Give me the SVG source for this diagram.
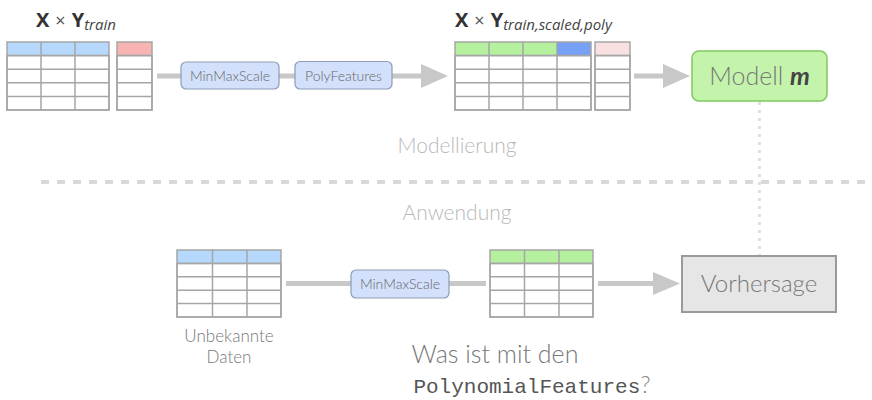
<svg xmlns="http://www.w3.org/2000/svg" width="872" height="400" viewBox="0 0 872 400">
<defs>
<style>
.grid{fill:#fff;stroke:#a6a6a6;stroke-width:1.5}
.hl{stroke:#a6a6a6;stroke-width:1.5}
.conn{stroke:#c8c8c8;stroke-width:5;fill:none}
.head{fill:#c8c8c8}
.op rect{fill:#d3e0fb;stroke:#8e9bb4;stroke-width:1.2}
.op text{font-family:Lato,"Open Sans","Liberation Sans",sans-serif;font-weight:300;font-size:14px;fill:#666;text-anchor:middle}
.title{font-family:"Open Sans","Liberation Sans",sans-serif;fill:#333}
.sec{font-family:Lato,"Open Sans","Liberation Sans",sans-serif;font-weight:300;font-size:21px;fill:#b8b8b8;text-anchor:middle}
.lbl{font-family:Lato,"Open Sans","Liberation Sans",sans-serif;font-weight:300;fill:#777;text-anchor:middle}
</style>
</defs>

<g id="sections">
<line x1="41" y1="182" x2="872" y2="182" stroke="#d9d9d9" stroke-width="4" stroke-dasharray="8 8"/>
<text class="sec" x="457" y="153">Modellierung</text>
<text class="sec" x="457" y="220">Anwendung</text>
</g>

<g id="connectors">
<line class="conn" x1="157" y1="76" x2="423" y2="76"/>
<polygon class="head" points="421,64 448,76 421,88"/>
<line class="conn" x1="634" y1="76" x2="665" y2="76"/>
<polygon class="head" points="663,64 690,76 663,88"/>
<line x1="759.5" y1="102" x2="759.5" y2="256" stroke="#e0e0e0" stroke-width="3" stroke-dasharray="3 5"/>
<line class="conn" x1="286" y1="283.5" x2="486" y2="283.5"/>
<line class="conn" x1="598" y1="283.5" x2="655" y2="283.5"/>
<polygon class="head" points="653,272 680,283.5 653,295"/>
</g>

<g id="title-train">
<text class="title" x="36" y="27"><tspan font-weight="bold" font-size="20">X</tspan><tspan font-size="18" dx="6" fill="#555">×</tspan><tspan font-weight="bold" font-size="20" dx="6">Y</tspan><tspan font-style="italic" font-size="15" dy="3" fill="#444">train</tspan></text>
</g>

<g id="table-x-train">
<rect x="7" y="42" width="102" height="13.6" fill="#b6d8fc"/>
<rect class="grid" x="7" y="55.6" width="102" height="54.4"/>
<rect x="7" y="42" width="102" height="68" fill="none" stroke="#a6a6a6" stroke-width="1.5"/>
<line class="hl" x1="7" y1="55.6" x2="109" y2="55.6"/>
<line class="hl" x1="7" y1="69.2" x2="109" y2="69.2"/>
<line class="hl" x1="7" y1="82.8" x2="109" y2="82.8"/>
<line class="hl" x1="7" y1="96.4" x2="109" y2="96.4"/>
<line class="hl" x1="41" y1="42" x2="41" y2="110"/>
<line class="hl" x1="75" y1="42" x2="75" y2="110"/>
</g>

<g id="table-y-train">
<rect x="117" y="42" width="35" height="13.6" fill="#f8b3b3"/>
<rect class="grid" x="117" y="55.6" width="35" height="54.4"/>
<rect x="117" y="42" width="35" height="68" fill="none" stroke="#a6a6a6" stroke-width="1.5"/>
<line class="hl" x1="117" y1="55.6" x2="152" y2="55.6"/>
<line class="hl" x1="117" y1="69.2" x2="152" y2="69.2"/>
<line class="hl" x1="117" y1="82.8" x2="152" y2="82.8"/>
<line class="hl" x1="117" y1="96.4" x2="152" y2="96.4"/>
</g>

<g id="op-minmax-top" class="op">
<rect x="181" y="62" width="98" height="27" rx="5"/>
<text x="230" y="80.5">MinMaxScale</text>
</g>

<g id="op-poly" class="op">
<rect x="295" y="61.5" width="97" height="27.5" rx="5"/>
<text x="343.5" y="80.5">PolyFeatures</text>
</g>

<g id="title-scaled">
<text class="title" x="455" y="27"><tspan font-weight="bold" font-size="20">X</tspan><tspan font-size="18" dx="6" fill="#555">×</tspan><tspan font-weight="bold" font-size="20" dx="6">Y</tspan><tspan font-style="italic" font-size="15" dy="3" fill="#444">train,scaled,poly</tspan></text>
</g>

<g id="table-x-scaled">
<rect x="455" y="42" width="102" height="13.6" fill="#b5f09e"/>
<rect x="557" y="42" width="34" height="13.6" fill="#76a1f6"/>
<rect class="grid" x="455" y="55.6" width="136" height="54.4"/>
<rect x="455" y="42" width="136" height="68" fill="none" stroke="#a6a6a6" stroke-width="1.5"/>
<line class="hl" x1="455" y1="55.6" x2="591" y2="55.6"/>
<line class="hl" x1="455" y1="69.2" x2="591" y2="69.2"/>
<line class="hl" x1="455" y1="82.8" x2="591" y2="82.8"/>
<line class="hl" x1="455" y1="96.4" x2="591" y2="96.4"/>
<line class="hl" x1="489" y1="42" x2="489" y2="110"/>
<line class="hl" x1="523" y1="42" x2="523" y2="110"/>
<line class="hl" x1="557" y1="42" x2="557" y2="110"/>
</g>

<g id="table-y-scaled">
<rect x="595" y="42" width="35" height="13.6" fill="#f9e1e1"/>
<rect class="grid" x="595" y="55.6" width="35" height="54.4"/>
<rect x="595" y="42" width="35" height="68" fill="none" stroke="#a6a6a6" stroke-width="1.5"/>
<line class="hl" x1="595" y1="55.6" x2="630" y2="55.6"/>
<line class="hl" x1="595" y1="69.2" x2="630" y2="69.2"/>
<line class="hl" x1="595" y1="82.8" x2="630" y2="82.8"/>
<line class="hl" x1="595" y1="96.4" x2="630" y2="96.4"/>
</g>

<g id="modell">
<rect x="692" y="51" width="135" height="50" rx="7" fill="#c4f3ac" stroke="#7dca5c" stroke-width="1.5"/>
<text class="lbl" x="759.5" y="84.5" font-size="25" fill="#666">Modell <tspan font-weight="bold" font-style="italic" fill="#444">m</tspan></text>
</g>

<g id="table-unknown">
<rect x="177" y="250" width="104" height="13.4" fill="#b6d8fc"/>
<rect class="grid" x="177" y="263.4" width="104" height="53.6"/>
<rect x="177" y="250" width="104" height="67" fill="none" stroke="#a6a6a6" stroke-width="1.5"/>
<line class="hl" x1="177" y1="263.4" x2="281" y2="263.4"/>
<line class="hl" x1="177" y1="276.8" x2="281" y2="276.8"/>
<line class="hl" x1="177" y1="290.2" x2="281" y2="290.2"/>
<line class="hl" x1="177" y1="303.6" x2="281" y2="303.6"/>
<line class="hl" x1="212.5" y1="250" x2="212.5" y2="317"/>
<line class="hl" x1="247" y1="250" x2="247" y2="317"/>
<text class="lbl" x="229" y="342" font-size="17" fill="#999">Unbekannte</text>
<text class="lbl" x="229" y="363" font-size="17" fill="#999">Daten</text>
</g>

<g id="op-minmax-bottom" class="op">
<rect x="351" y="270" width="98" height="28" rx="5"/>
<text x="400" y="289">MinMaxScale</text>
</g>

<g id="table-unknown-scaled">
<rect x="490" y="250" width="103" height="13.4" fill="#b5f09e"/>
<rect class="grid" x="490" y="263.4" width="103" height="53.6"/>
<rect x="490" y="250" width="103" height="67" fill="none" stroke="#a6a6a6" stroke-width="1.5"/>
<line class="hl" x1="490" y1="263.4" x2="593" y2="263.4"/>
<line class="hl" x1="490" y1="276.8" x2="593" y2="276.8"/>
<line class="hl" x1="490" y1="290.2" x2="593" y2="290.2"/>
<line class="hl" x1="490" y1="303.6" x2="593" y2="303.6"/>
<line class="hl" x1="524.5" y1="250" x2="524.5" y2="317"/>
<line class="hl" x1="559" y1="250" x2="559" y2="317"/>
</g>

<g id="vorhersage">
<rect x="682" y="256" width="154" height="56" fill="#e6e6e6" stroke="#9a9a9a" stroke-width="2"/>
<text class="lbl" x="759" y="292" font-size="24" fill="#777">Vorhersage</text>
</g>

<g id="question">
<text class="lbl" x="495" y="363" font-size="25" fill="#888">Was ist mit den</text>
<text x="532" y="393" text-anchor="middle"><tspan font-family="'Liberation Mono','DejaVu Sans Mono',monospace" font-size="21" fill="#555">PolynomialFeatures</tspan><tspan font-family="Lato,'Open Sans','Liberation Sans',sans-serif" font-weight="300" font-size="24" fill="#888">?</tspan></text>
</g>
</svg>
